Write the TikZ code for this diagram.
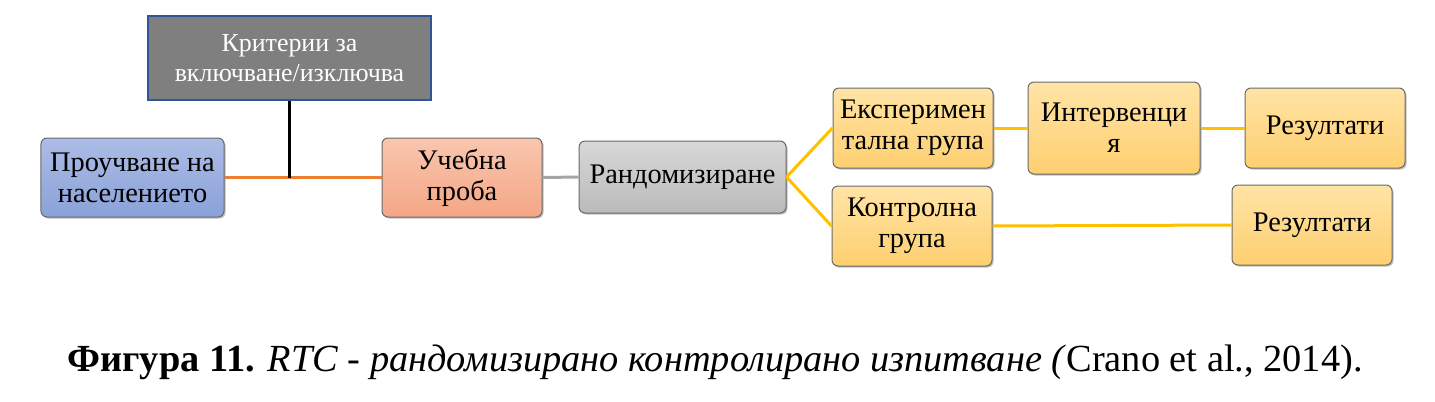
\documentclass[tikz,border=0pt]{standalone}
\usepackage{fontspec}
\setmainfont{Liberation Serif}
\usetikzlibrary{shadows}
\definecolor{critfill}{RGB}{127,127,127}
\definecolor{critborder}{RGB}{47,85,151}
\definecolor{boxborder}{RGB}{105,105,105}
\definecolor{bluetop}{RGB}{172,188,230}
\definecolor{bluebot}{RGB}{138,162,216}
\definecolor{salmtop}{RGB}{249,198,174}
\definecolor{salmbot}{RGB}{244,166,134}
\definecolor{graytop}{RGB}{216,216,216}
\definecolor{graybot}{RGB}{186,186,186}
\definecolor{yeltop}{RGB}{255,228,166}
\definecolor{yelbot}{RGB}{254,207,112}
\definecolor{orangeline}{RGB}{237,125,49}
\definecolor{yellowline}{RGB}{255,192,0}
\definecolor{grayline}{RGB}{165,165,165}
\tikzset{
  box/.style={rectangle, rounded corners=6bp, draw=boxborder, line width=1bp,
    align=center, inner sep=0pt, font=\fontsize{28.5}{31}\selectfont,
    drop shadow={shadow xshift=1.5bp, shadow yshift=-1.5bp, fill=black, opacity=0.25}},
  bluebox/.style={box, top color=bluetop, bottom color=bluebot},
  salmbox/.style={box, top color=salmtop, bottom color=salmbot},
  graybox/.style={box, top color=graytop, bottom color=graybot},
  yelbox/.style={box, top color=yeltop, bottom color=yelbot},
  critbox/.style={rectangle, fill=critfill, draw=critborder, line width=2bp,
    align=center, inner sep=0pt, text=white, font=\fontsize{26}{30}\selectfont},
  link/.style={line width=3bp},
}
\begin{document}
\begin{tikzpicture}[x=1bp, y=-1bp]
\useasboundingbox (0,0) rectangle (1435,401);
\fill[white] (0,0) rectangle (1435,401);
\node[critbox, minimum width=283bp, minimum height=84bp] (crit) at (289.5,58) {Критерии за\\включване/изключва};
\node[bluebox, minimum width=183bp, minimum height=79bp] (prou) at (132.5,177.5) {Проучване на\\населението};
\node[salmbox, minimum width=160bp, minimum height=79bp] (uch) at (462,177.5) {Учебна\\проба};
\node[graybox, minimum width=207bp, minimum height=72bp] (rand) at (682.5,177) {Рандомизиране};
\node[yelbox, minimum width=160bp, minimum height=80bp] (exp) at (913,128) {Експеримен\\тална група};
\node[yelbox, minimum width=172bp, minimum height=92bp] (int) at (1114,128) {Интервенци\\я};
\node[yelbox, minimum width=160bp, minimum height=80bp] (res1) at (1325,128) {Резултати};
\node[yelbox, minimum width=160bp, minimum height=80bp] (kon) at (912,226) {Контролна\\група};
\node[yelbox, minimum width=160bp, minimum height=80bp] (res2) at (1312,225) {Резултати};
\draw[link, orangeline] (prou.east) -- (uch.west);
\draw[link, black] (crit.south) -- (crit.south |- prou.east);
\draw[link, grayline] (uch.east) -- (rand.west);
\draw[link, yellowline] (rand.east) -- (exp.west);
\draw[link, yellowline] (rand.east) -- (kon.west);
\draw[link, yellowline] (exp.east) -- (int.west);
\draw[link, yellowline] (int.east) -- (res1.west);
\draw[link, yellowline] (kon.east) -- (res2.west);
\node[font=\fontsize{38.5}{44}\selectfont, inner sep=0pt] (cap) at (715,362)
  {\textbf{Фигура 11.} \textit{RTC - рандомизирано контролирано изпитване (}Crano et al., 2014).};
\end{tikzpicture}
\end{document}
